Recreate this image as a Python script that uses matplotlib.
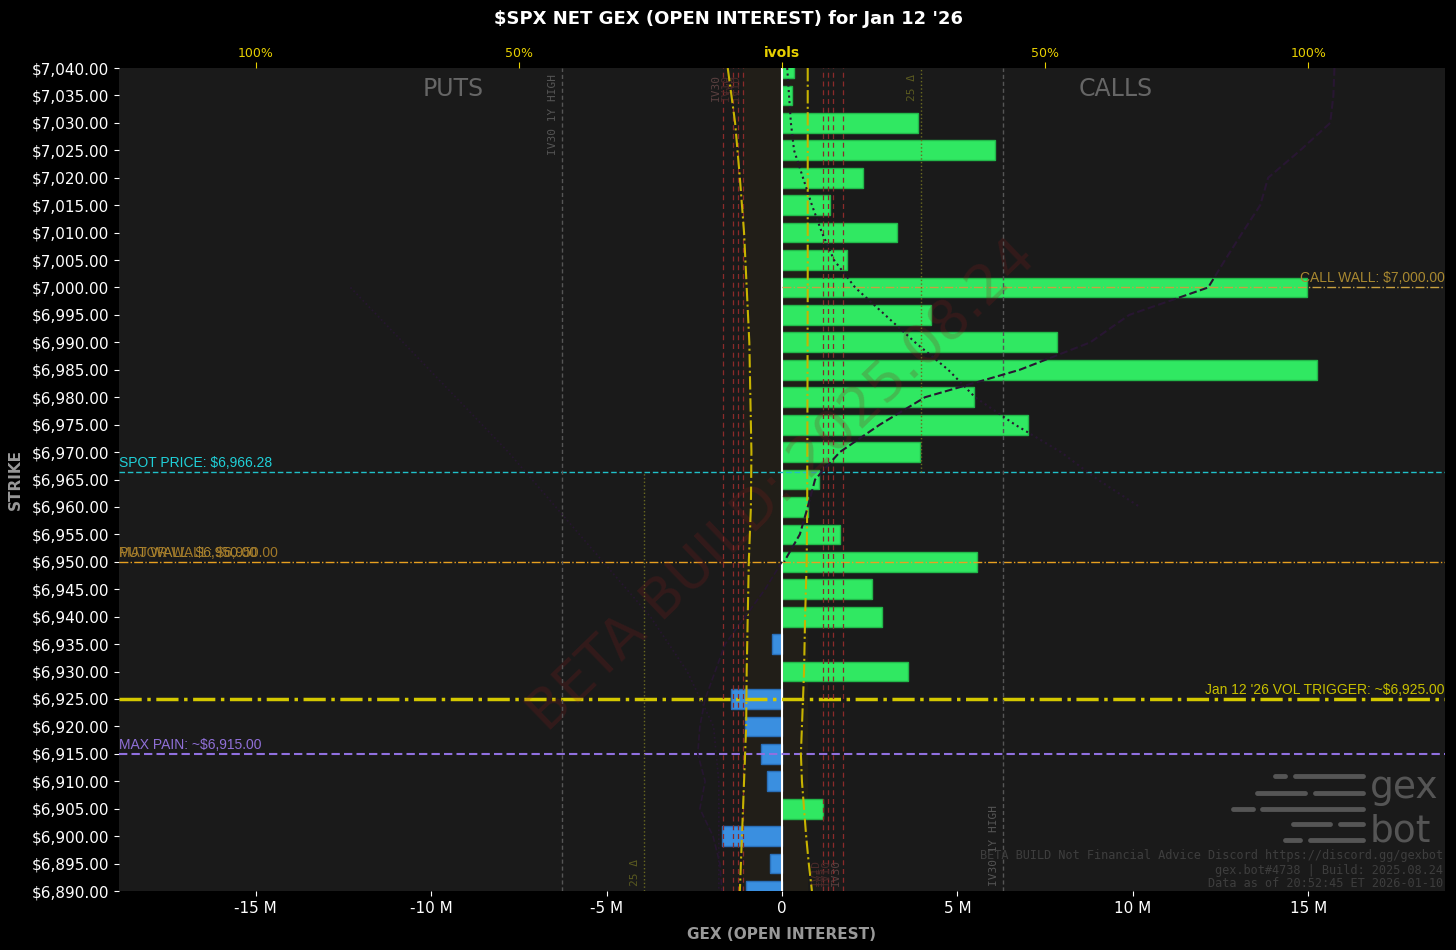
import matplotlib
matplotlib.use('Agg')
import matplotlib.pyplot as plt
from matplotlib.ticker import FuncFormatter
from matplotlib.lines import Line2D
import matplotlib.transforms as mtransforms

# strikes and net gex (millions)
strikes = [7040, 7035, 7030, 7025, 7020, 7015, 7010, 7005, 7000, 6995, 6990, 6985,
           6980, 6975, 6970, 6965, 6960, 6955, 6950, 6945, 6940, 6935, 6930, 6925,
           6920, 6915, 6910, 6905, 6900, 6895, 6890]
gex = [0.35, 0.28, 3.88, 6.07, 2.31, 1.37, 3.28, 1.85, 14.97, 4.25, 7.84, 15.25,
       5.47, 7.01, 3.93, 1.06, 0.74, 1.65, 5.56, 2.57, 2.85, -0.28, 3.59, -1.45,
       -1.05, -0.6, -0.43, 1.17, -1.71, -0.34, -1.03]

spot = 6966.28
call_wall = 7000
put_wall = 6950
vol_trigger = 6925
max_pain = 6915

# ivol curves (fraction, puts plotted negative)
atm_put_k = [7040, 7030, 7020, 7010, 7000, 6990, 6980, 6970, 6960, 6950, 6940, 6930, 6920, 6910, 6900, 6890]
atm_put_iv = [0.103, 0.089, 0.080, 0.072, 0.067, 0.062, 0.060, 0.058, 0.059, 0.063, 0.065, 0.067, 0.068, 0.072, 0.076, 0.080]
atm_call_k = [7040, 7000, 6960, 6950, 6940, 6930, 6920, 6915, 6910, 6900, 6895, 6890]
atm_call_iv = [0.049, 0.049, 0.048, 0.047, 0.044, 0.042, 0.038, 0.036, 0.038, 0.046, 0.051, 0.057]

call_dot_k = [7040, 7030, 7025, 7020, 7015, 7010, 7005, 7000, 6995, 6990, 6985, 6980, 6975, 6970, 6965, 6960]
call_dot_iv = [0.010, 0.017, 0.023, 0.040, 0.057, 0.076, 0.099, 0.139, 0.196, 0.253, 0.316, 0.367, 0.443, 0.53, 0.60, 0.68]
call_dash_k = [7040, 7035, 7030, 7025, 7020, 7015, 7010, 7005, 7000, 6995, 6990, 6985, 6980, 6975, 6970, 6965, 6960, 6955, 6950]
call_dash_iv = [1.05, 1.048, 1.042, 0.985, 0.924, 0.909, 0.875, 0.842, 0.81, 0.66, 0.586, 0.452, 0.272, 0.186, 0.11, 0.063, 0.049, 0.034, 0.004]
put_dash_k = [6950, 6945, 6940, 6935, 6930, 6925, 6920, 6915, 6910, 6905, 6900, 6895, 6890]
put_dash_iv = [0.0, 0.032, 0.07, 0.108, 0.127, 0.146, 0.156, 0.16, 0.146, 0.156, 0.131, 0.118, 0.114]
put_dot_k = [7000, 6990, 6980, 6970, 6960, 6950, 6940, 6930, 6920, 6910, 6900, 6890]
put_dot_iv = [0.82, 0.72, 0.62, 0.52, 0.43, 0.34, 0.25, 0.18, 0.13, 0.12, 0.12, 0.12]

iv_put_lines = [0.112, 0.093, 0.084, 0.074]
iv_call_lines = [0.078, 0.087, 0.097, 0.116]
iv_names = ['IV30', 'IV10', 'IV5', 'IV1D']
iv30_high = [-0.418, 0.420]
delta25 = [-0.262, 0.264]

fig = plt.figure(figsize=(14.56, 9.5), dpi=100, facecolor='black')
ax = fig.add_axes([0.0817, 0.0621, 0.9107, 0.8663])
ax.set_facecolor('#1a1a1a')
for s in ax.spines.values():
    s.set_visible(False)

colors = ['#30e862' if v >= 0 else '#3a8fe0' for v in gex]
edges = ['#22b84a' if v >= 0 else '#2a6fb8' for v in gex]
ax.axvspan(-1.11, 0.71, color='#211e18', zorder=0.5)
ax.barh(strikes, gex, height=3.6, color=colors, edgecolor=edges, linewidth=1, zorder=2)

ax.set_xlim(-18.9, 18.9)
ax.set_ylim(6890, 7040)
ax.set_yticks(range(6890, 7041, 5))
ax.yaxis.set_major_formatter(FuncFormatter(lambda v, p: '${:,.2f}'.format(v)))
ax.set_xticks([-15, -10, -5, 0, 5, 10, 15])
ax.xaxis.set_major_formatter(FuncFormatter(lambda v, p: '0' if v == 0 else '%d M' % v))
ax.tick_params(colors='white', labelsize=11)
ax.set_xlabel('GEX (OPEN INTEREST)', color='#999999', fontsize=11, fontweight='bold', labelpad=8)
ax.set_ylabel('STRIKE', color='#999999', fontsize=11, fontweight='bold', labelpad=6)
ax.axvline(0, color='white', lw=1.5, zorder=4)

# twin ivol axis
ax2 = ax.twiny()
ax2.set_xlim(-1.26, 1.26)
for s in ax2.spines.values():
    s.set_visible(False)
ax2.set_xticks([-1, -0.5, 0, 0.5, 1])
ax2.set_xticklabels(['100%', '50%', 'ivols', '50%', '100%'])
ax2.tick_params(axis='x', colors='#e8d000', labelsize=9, length=4, pad=2)
ax2.get_xticklabels()[2].set_fontweight('bold')
ax2.get_xticklabels()[2].set_fontsize(10)

mono = 'DejaVu Sans Mono'
# IV lines
for i, v in enumerate(iv_put_lines):
    ax2.axvline(-v, color='#8a2a2a', lw=0.9, ls=(0, (4, 3)), zorder=1)
    ax2.text(-v - 0.004, 7039, iv_names[i], rotation=90, ha='right', va='top',
             color='#5a4040' if i == 0 else '#4a2a2a', fontsize=8, family=mono)
for i, v in enumerate(iv_call_lines):
    ax2.axvline(v, color='#8a2a2a', lw=0.9, ls=(0, (4, 3)), zorder=1)
    ax2.text(v - 0.004, 6891, iv_names[3 - i], rotation=90, ha='right', va='bottom',
             color='#5a4040' if i == 3 else '#4a2a2a', fontsize=8, family=mono)
ax2.axvline(iv30_high[0], color='#555555', lw=1, ls=(0, (3, 2)), zorder=1)
ax2.text(iv30_high[0] - 0.008, 7039, 'IV30 1Y HIGH', rotation=90, ha='right', va='top',
         color='#555555', fontsize=8, family=mono)
ax2.axvline(iv30_high[1], color='#555555', lw=1, ls=(0, (3, 2)), zorder=1)
ax2.text(iv30_high[1] - 0.008, 6891, 'IV30 1Y HIGH', rotation=90, ha='right', va='bottom',
         color='#555555', fontsize=8, family=mono)
ax2.vlines(delta25[0], 6890, spot, color='#6a6a20', lw=1, ls=':', zorder=1)
ax2.text(delta25[0] - 0.008, 6891, '25 Δ', rotation=90, ha='right', va='bottom',
         color='#5a5a20', fontsize=8, family=mono)
ax2.vlines(delta25[1], spot, 7040, color='#6a6a20', lw=1, ls=':', zorder=1)
ax2.text(delta25[1] - 0.008, 7039, '25 Δ', rotation=90, ha='right', va='top',
         color='#5a5a20', fontsize=8, family=mono)

ax2.plot([-v for v in atm_put_iv], atm_put_k, color='#c8b400', lw=1.5, ls='-.', zorder=3)
ax2.plot(atm_call_iv, atm_call_k, color='#c8b400', lw=1.5, ls='-.', zorder=3)
ax2.plot(call_dot_iv, call_dot_k, color='#281632', lw=1.5, ls=':', zorder=3)
ax2.plot(call_dash_iv, call_dash_k, color='#281632', lw=1.5, ls='--', zorder=3)
ax2.plot([-v for v in put_dash_iv], put_dash_k, color='#261630', lw=1.2, ls='--', zorder=3)
ax2.plot([-v for v in put_dot_iv], put_dot_k, color='#261630', lw=1.2, ls=':', zorder=3)

# horizontal levels
lab_font = 'Liberation Sans'
tl = mtransforms.blended_transform_factory(ax.transAxes, ax.transData)
ax.axhline(spot, color='#20c0c8', lw=1, ls=(0, (4, 2)), zorder=5)
ax.text(0.0, spot + 0.4, 'SPOT PRICE: $6,966.28', transform=tl, color='#20d0d8',
        fontsize=10, family=lab_font, va='bottom', ha='left')
ax.axhline(put_wall, color='#e8a020', lw=1, ls='-.', zorder=5)
ax.text(0.0, put_wall + 0.4, 'PUT WALL: $6,950.00', transform=tl, color='#b08830',
        fontsize=10, family=lab_font, va='bottom', ha='left')
ax.text(0.0, put_wall + 0.4, 'MAJOR WALL: $6,950.00', transform=tl, color='#a07828',
        fontsize=10, family=lab_font, va='bottom', ha='left')
ax.hlines(call_wall, 0, 18.9, color='#c8a040', lw=1, ls='-.', zorder=5)
ax.text(1.0, call_wall + 0.4, 'CALL WALL: $7,000.00', transform=tl, color='#a88830',
        fontsize=10, family=lab_font, va='bottom', ha='right')
ax.axhline(vol_trigger, color='#d4c800', lw=2.5, ls='-.', zorder=5)
ax.text(1.0, vol_trigger + 0.4, "Jan 12 '26 VOL TRIGGER: ~$6,925.00", transform=tl,
        color='#c8c000', fontsize=10, family=lab_font, va='bottom', ha='right')
ax.axhline(max_pain, color='#9070e0', lw=1.5, ls=(0, (4, 2)), zorder=5)
ax.text(0.0, max_pain + 0.4, 'MAX PAIN: ~$6,915.00', transform=tl, color='#9070d8',
        fontsize=10, family=lab_font, va='bottom', ha='left')

# labels and watermark
ax.text(0.252, 0.989, 'PUTS', transform=ax.transAxes, color='#666666', fontsize=17,
        ha='center', va='top')
ax.text(0.752, 0.989, 'CALLS', transform=ax.transAxes, color='#666666', fontsize=17,
        ha='center', va='top')
ax.text(0.5, 0.493, 'BETA BUILD: 2025.08.24', transform=ax.transAxes, color='#8a1a1a',
        alpha=0.22, fontsize=40, rotation=44, ha='center', va='center', zorder=6)

fig.text(0.991, 0.0995, 'BETA BUILD Not Financial Advice Discord https://discord.gg/gexbot',
         color='#3e3e3e', fontsize=8.6, family=mono, ha='right', va='center')
fig.text(0.991, 0.0832, 'gex.bot#4738 | Build: 2025.08.24', color='#3e3e3e', fontsize=8.6,
         family=mono, ha='right', va='center')
fig.text(0.991, 0.0695, 'Data as of 20:52:45 ET 2026-01-10', color='#3e3e3e', fontsize=8.6,
         family=mono, ha='right', va='center')

# gexbot logo
logo_rows = [(776, [(1275, 1285), (1295, 1363)]), (793, [(1257, 1305), (1315, 1363)]),
             (809, [(1233, 1253), (1262, 1363)]), (824, [(1293, 1330), (1340, 1363)]),
             (840, [(1285, 1300), (1310, 1363)])]
for yy, segs in logo_rows:
    for x0, x1 in segs:
        fig.add_artist(Line2D([x0 / 1456, x1 / 1456], [1 - yy / 950, 1 - yy / 950],
                              color='#555555', lw=3.5, solid_capstyle='round'))
fig.text(1370 / 1456, 1 - 798 / 950, 'gex', color='#555555', fontsize=27, ha='left', va='baseline')
fig.text(1370 / 1456, 1 - 842 / 950, 'bot', color='#555555', fontsize=27, ha='left', va='baseline')

fig.suptitle("$SPX NET GEX (OPEN INTEREST) for Jan 12 '26", color='white', fontsize=13,
             fontweight='bold', y=0.989)

fig.savefig('out.png', dpi=100, facecolor='black')
